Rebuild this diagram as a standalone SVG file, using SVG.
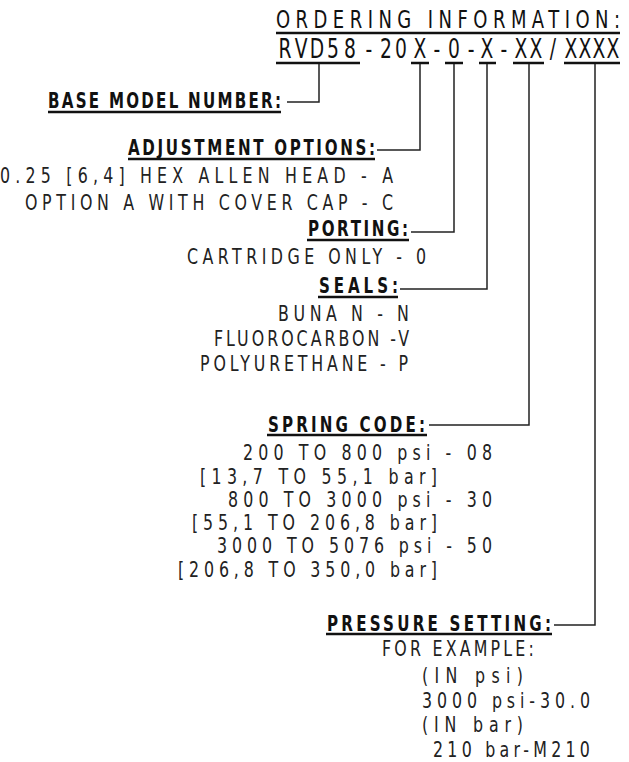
<svg xmlns="http://www.w3.org/2000/svg" width="629" height="762" viewBox="0 0 629 762">
<style>
text{font-family:"DejaVu Sans","Liberation Sans",sans-serif;fill:#111}
.t{font-size:25px}
.c{font-size:26px;text-anchor:middle}
.h{font-size:21px;font-weight:bold}
.b{font-size:22px;fill:#222}
.ul{stroke:#111;stroke-width:2.4;fill:none}
.ln{stroke:#222;stroke-width:1.5;fill:none}
</style>
<rect width="629" height="762" fill="#fff"/>
<g id="title">
<text class="t" transform="translate(276,28) scale(0.72,1)" textLength="477.8" lengthAdjust="spacing">ORDERING INFORMATION:</text>
<line class="ul" x1="276" y1="33" x2="620" y2="33"/>
</g>
<g id="code">
<text class="c" transform="scale(0.72,1)" x="395.8 418.1 440.3 462.5 486.1 512.5 536.1 556.9 583.3 606.9 630.6 654.2 676.4 700 723.6 744.4 768.1 793.1 812.5 831.9 851.4" y="58">RVD58-20X-0-X-XX/XXXX</text>
<path class="ul" d="M276 63H360M411 63H429M445 63H463M479 63H496M513 63H544M564 63H620"/>
</g>
<g id="base-model">
<text class="h" transform="translate(48,108) scale(0.72,1)" textLength="323.6" lengthAdjust="spacing">BASE MODEL NUMBER:</text>
<line class="ul" x1="48" y1="112" x2="281" y2="112"/>
</g>
<g id="adjustment">
<text class="h" transform="translate(128,155) scale(0.72,1)" textLength="343.1" lengthAdjust="spacing">ADJUSTMENT OPTIONS:</text>
<line class="ul" x1="128" y1="159" x2="375" y2="159"/>
<text class="b" transform="translate(0,183) scale(0.72,1)" textLength="545.8" lengthAdjust="spacing">0.25 [6,4] HEX ALLEN HEAD - A</text>
<text class="b" transform="translate(25,210) scale(0.72,1)" textLength="511.1" lengthAdjust="spacing">OPTION A WITH COVER CAP - C</text>
</g>
<g id="porting">
<text class="h" transform="translate(308,236) scale(0.72,1)" textLength="139" lengthAdjust="spacing">PORTING:</text>
<line class="ul" x1="307" y1="240" x2="409" y2="240"/>
<text class="b" transform="translate(187,264) scale(0.72,1)" textLength="331.9" lengthAdjust="spacing">CARTRIDGE ONLY - 0</text>
</g>
<g id="seals">
<text class="h" transform="translate(319,293) scale(0.72,1)" textLength="109.7" lengthAdjust="spacing">SEALS:</text>
<line class="ul" x1="318" y1="297" x2="398" y2="297"/>
<text class="b" transform="translate(278,321) scale(0.72,1)" textLength="181.9" lengthAdjust="spacing">BUNA N - N</text>
<text class="b" transform="translate(214,346) scale(0.72,1)" textLength="270.8" lengthAdjust="spacing">FLUOROCARBON -V</text>
<text class="b" transform="translate(200,371) scale(0.72,1)" textLength="288.9" lengthAdjust="spacing">POLYURETHANE - P</text>
</g>
<g id="spring-code">
<text class="h" transform="translate(268,432) scale(0.72,1)" textLength="218" lengthAdjust="spacing">SPRING CODE:</text>
<line class="ul" x1="267" y1="435" x2="427" y2="435"/>
<text class="b" transform="translate(243,460) scale(0.72,1)" textLength="345.8" lengthAdjust="spacing">200 TO 800 psi - 08</text>
<text class="b" transform="translate(200,484) scale(0.72,1)" textLength="329.2" lengthAdjust="spacing">[13,7 TO 55,1 bar]</text>
<text class="b" transform="translate(228,507) scale(0.72,1)" textLength="366.7" lengthAdjust="spacing">800 TO 3000 psi - 30</text>
<text class="b" transform="translate(192,530) scale(0.72,1)" textLength="340.3" lengthAdjust="spacing">[55,1 TO 206,8 bar]</text>
<text class="b" transform="translate(217,553) scale(0.72,1)" textLength="381.9" lengthAdjust="spacing">3000 TO 5076 psi - 50</text>
<text class="b" transform="translate(178,577) scale(0.72,1)" textLength="359.7" lengthAdjust="spacing">[206,8 TO 350,0 bar]</text>
</g>
<g id="pressure-setting">
<text class="h" transform="translate(327,631) scale(0.72,1)" textLength="311.1" lengthAdjust="spacing">PRESSURE SETTING:</text>
<line class="ul" x1="326" y1="634" x2="552" y2="634"/>
<text class="b" transform="translate(382,656) scale(0.72,1)" textLength="211" lengthAdjust="spacing">FOR EXAMPLE:</text>
<text class="b" transform="translate(422,683) scale(0.72,1)" textLength="140.3" lengthAdjust="spacing">(IN psi)</text>
<text class="b" transform="translate(422,708) scale(0.72,1)" textLength="233.3" lengthAdjust="spacing">3000 psi-30.0</text>
<text class="b" transform="translate(422,732) scale(0.72,1)" textLength="140.3" lengthAdjust="spacing">(IN bar)</text>
<text class="b" transform="translate(433,757) scale(0.72,1)" textLength="218" lengthAdjust="spacing">210 bar-M210</text>
</g>
<g id="connectors">
<path class="ln" d="M319 64V102H287"/>
<path class="ln" d="M420 64V150H377"/>
<path class="ln" d="M454 64V232H411"/>
<path class="ln" d="M487 64V289H400"/>
<path class="ln" d="M529 64V425H429"/>
<path class="ln" d="M595 64V625H554"/>
</g>
</svg>
